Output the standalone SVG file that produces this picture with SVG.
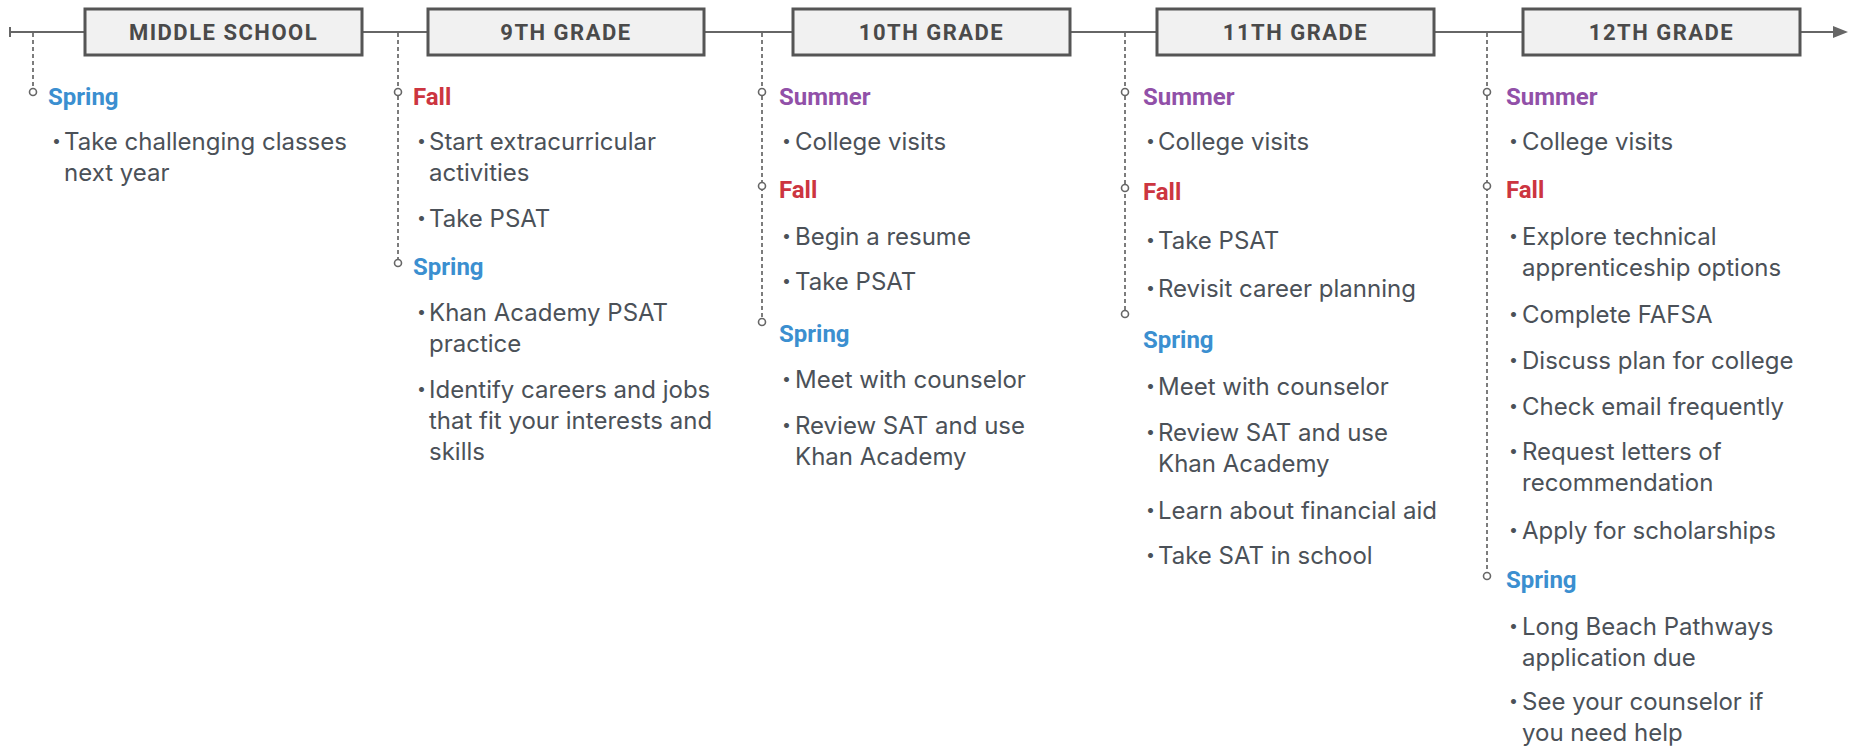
<svg xmlns="http://www.w3.org/2000/svg" width="1849" height="748" viewBox="0 0 1849 748">
<style>
.bg{fill:#fff}
.box rect{fill:#f1f1f1;stroke:#555;stroke-width:3}
.box text{font-family:Roboto,"DejaVu Sans",sans-serif;font-weight:700;font-size:22px;letter-spacing:1.5px;fill:#4a4a4a;text-anchor:middle}
.h{font-family:Roboto,"Liberation Sans",sans-serif;font-weight:700;font-size:24px}
.spring{fill:#3b8fd0}
.fall{fill:#cc3540}
.summer{fill:#9150a8}
.t{font-family:Inter,"Open Sans",sans-serif;font-size:24px;fill:#4b5158}
.b{font-family:Inter,"Open Sans",sans-serif;font-size:16px;fill:#4b5158}
.main{stroke:#666;stroke-width:2;fill:none}
.dash{stroke:#666;stroke-width:1.7;stroke-dasharray:4 3;fill:none}
.dot{fill:#fff;stroke:#666;stroke-width:1.6}
</style>
<rect class="bg" x="0" y="0" width="1849" height="748"/>

<g id="connectors">
  <line class="main" x1="10" y1="32" x2="1836" y2="32"/>
  <line class="main" x1="10" y1="27" x2="10" y2="37"/>
  <polygon points="1833,26 1848,32 1833,38" fill="#666"/>
  <line class="dash" x1="33" y1="33" x2="33" y2="89"/>
  <line class="dash" x1="398" y1="33" x2="398" y2="260"/>
  <line class="dash" x1="762" y1="33" x2="762" y2="319"/>
  <line class="dash" x1="1125" y1="33" x2="1125" y2="311"/>
  <line class="dash" x1="1487" y1="33" x2="1487" y2="573"/>
  <circle class="dot" cx="33" cy="92" r="3.5"/>
  <circle class="dot" cx="398" cy="92" r="3.5"/>
  <circle class="dot" cx="398" cy="263" r="3.5"/>
  <circle class="dot" cx="762" cy="92" r="3.5"/>
  <circle class="dot" cx="762" cy="186" r="3.5"/>
  <circle class="dot" cx="762" cy="322" r="3.5"/>
  <circle class="dot" cx="1125" cy="92" r="3.5"/>
  <circle class="dot" cx="1125" cy="188" r="3.5"/>
  <circle class="dot" cx="1125" cy="314" r="3.5"/>
  <circle class="dot" cx="1487" cy="92" r="3.5"/>
  <circle class="dot" cx="1487" cy="186" r="3.5"/>
  <circle class="dot" cx="1487" cy="576" r="3.5"/>
</g>

<g id="box-ms" class="box"><rect x="85" y="9" width="277" height="46"/><text x="223.5" y="40">MIDDLE SCHOOL</text></g>
<g id="box-9" class="box"><rect x="428" y="9" width="276" height="46"/><text x="566" y="40">9TH GRADE</text></g>
<g id="box-10" class="box"><rect x="793" y="9" width="277" height="46"/><text x="931.5" y="40">10TH GRADE</text></g>
<g id="box-11" class="box"><rect x="1157" y="9" width="277" height="46"/><text x="1295.5" y="40">11TH GRADE</text></g>
<g id="box-12" class="box"><rect x="1523" y="9" width="277" height="46"/><text x="1661.5" y="40">12TH GRADE</text></g>

<g id="col-ms">
  <text class="h spring" x="48" y="105">Spring</text>
  <text class="b" x="52" y="146">•</text>
  <text class="t" x="64" y="150">Take challenging classes</text>
  <text class="t" x="64" y="181">next year</text>
</g>

<g id="col-9">
  <text class="h fall" x="413" y="105">Fall</text>
  <text class="b" x="417" y="146">•</text>
  <text class="t" x="429" y="150">Start extracurricular</text>
  <text class="t" x="429" y="181">activities</text>
  <text class="b" x="417" y="223">•</text>
  <text class="t" x="429" y="227">Take PSAT</text>
  <text class="h spring" x="413" y="275">Spring</text>
  <text class="b" x="417" y="317">•</text>
  <text class="t" x="429" y="321">Khan Academy PSAT</text>
  <text class="t" x="429" y="352">practice</text>
  <text class="b" x="417" y="394">•</text>
  <text class="t" x="429" y="398">Identify careers and jobs</text>
  <text class="t" x="429" y="429">that fit your interests and</text>
  <text class="t" x="429" y="460">skills</text>
</g>

<g id="col-10">
  <text class="h summer" x="779" y="105">Summer</text>
  <text class="b" x="782" y="146">•</text>
  <text class="t" x="795" y="150">College visits</text>
  <text class="h fall" x="779" y="198">Fall</text>
  <text class="b" x="782" y="241">•</text>
  <text class="t" x="795" y="245">Begin a resume</text>
  <text class="b" x="782" y="286">•</text>
  <text class="t" x="795" y="290">Take PSAT</text>
  <text class="h spring" x="779" y="342">Spring</text>
  <text class="b" x="782" y="384">•</text>
  <text class="t" x="795" y="388">Meet with counselor</text>
  <text class="b" x="782" y="430">•</text>
  <text class="t" x="795" y="434">Review SAT and use</text>
  <text class="t" x="795" y="465">Khan Academy</text>
</g>

<g id="col-11">
  <text class="h summer" x="1143" y="105">Summer</text>
  <text class="b" x="1146" y="146">•</text>
  <text class="t" x="1158" y="150">College visits</text>
  <text class="h fall" x="1143" y="200">Fall</text>
  <text class="b" x="1146" y="245">•</text>
  <text class="t" x="1158" y="249">Take PSAT</text>
  <text class="b" x="1146" y="293">•</text>
  <text class="t" x="1158" y="297">Revisit career planning</text>
  <text class="h spring" x="1143" y="348">Spring</text>
  <text class="b" x="1146" y="391">•</text>
  <text class="t" x="1158" y="395">Meet with counselor</text>
  <text class="b" x="1146" y="437">•</text>
  <text class="t" x="1158" y="441">Review SAT and use</text>
  <text class="t" x="1158" y="472">Khan Academy</text>
  <text class="b" x="1146" y="515">•</text>
  <text class="t" x="1158" y="519">Learn about financial aid</text>
  <text class="b" x="1146" y="560">•</text>
  <text class="t" x="1158" y="564">Take SAT in school</text>
</g>

<g id="col-12">
  <text class="h summer" x="1506" y="105">Summer</text>
  <text class="b" x="1509" y="146">•</text>
  <text class="t" x="1522" y="150">College visits</text>
  <text class="h fall" x="1506" y="198">Fall</text>
  <text class="b" x="1509" y="241">•</text>
  <text class="t" x="1522" y="245">Explore technical</text>
  <text class="t" x="1522" y="276">apprenticeship options</text>
  <text class="b" x="1509" y="319">•</text>
  <text class="t" x="1522" y="323">Complete FAFSA</text>
  <text class="b" x="1509" y="365">•</text>
  <text class="t" x="1522" y="369">Discuss plan for college</text>
  <text class="b" x="1509" y="411">•</text>
  <text class="t" x="1522" y="415">Check email frequently</text>
  <text class="b" x="1509" y="456">•</text>
  <text class="t" x="1522" y="460">Request letters of</text>
  <text class="t" x="1522" y="491">recommendation</text>
  <text class="b" x="1509" y="535">•</text>
  <text class="t" x="1522" y="539">Apply for scholarships</text>
  <text class="h spring" x="1506" y="588">Spring</text>
  <text class="b" x="1509" y="631">•</text>
  <text class="t" x="1522" y="635">Long Beach Pathways</text>
  <text class="t" x="1522" y="666">application due</text>
  <text class="b" x="1509" y="706">•</text>
  <text class="t" x="1522" y="710">See your counselor if</text>
  <text class="t" x="1522" y="741">you need help</text>
</g>
</svg>
